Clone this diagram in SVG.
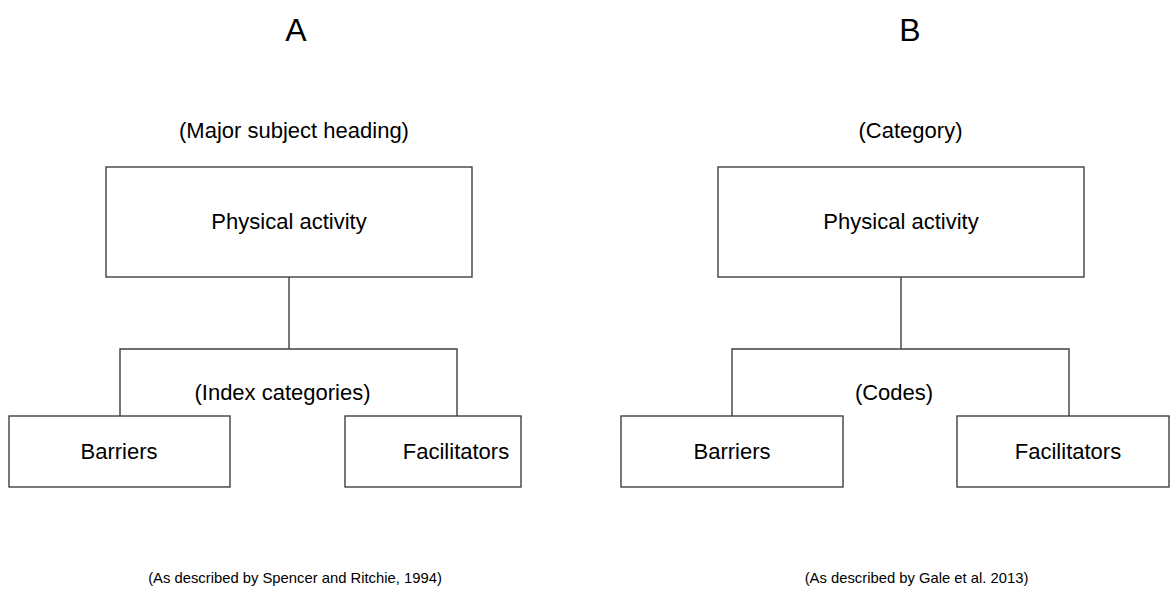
<svg xmlns="http://www.w3.org/2000/svg" width="1171" height="589" viewBox="0 0 1171 589">
<style>
.box{fill:#ffffff;stroke:#3f3f3f;stroke-width:1.4}
.con{fill:none;stroke:#3f3f3f;stroke-width:1.4}
text{font-family:"Liberation Sans",Arial,sans-serif;fill:#000;text-anchor:middle}
.t{font-size:22px}
.h{font-size:32px}
.s{font-size:14.8px}
</style>
<rect width="1171" height="589" fill="#ffffff"/>
<g id="titles">
<text class="h" x="296" y="41">A</text>
<text class="h" x="910" y="41">B</text>
<text class="t" x="294" y="138">(Major subject heading)</text>
<text class="t" x="910.5" y="138">(Category)</text>
<text class="t" x="282.5" y="400">(Index categories)</text>
<text class="t" x="894" y="400">(Codes)</text>
<text class="s" x="295" y="583">(As described by Spencer and Ritchie, 1994)</text>
<text class="s" x="916.5" y="583">(As described by Gale et al. 2013)</text>
</g>
<g id="connectors">
<path class="con" d="M289 277 V349 M120 416 V349 H457 V416"/>
<path class="con" d="M901 277 V349 M732 416 V349 H1069 V416"/>
</g>
<g id="a-physical">
<rect class="box" x="106" y="167" width="366" height="110"/>
<text class="t" x="289" y="229">Physical activity</text>
</g>
<g id="a-barriers">
<rect class="box" x="9" y="416" width="221" height="71"/>
<text class="t" x="119" y="459">Barriers</text>
</g>
<g id="a-facilitators">
<rect class="box" x="345" y="416" width="176" height="71"/>
<text class="t" x="456" y="459">Facilitators</text>
</g>
<g id="b-physical">
<rect class="box" x="718" y="167" width="366" height="110"/>
<text class="t" x="901" y="229">Physical activity</text>
</g>
<g id="b-barriers">
<rect class="box" x="621" y="416" width="222" height="71"/>
<text class="t" x="732" y="459">Barriers</text>
</g>
<g id="b-facilitators">
<rect class="box" x="957" y="416" width="212" height="71"/>
<text class="t" x="1068" y="459">Facilitators</text>
</g>
</svg>
